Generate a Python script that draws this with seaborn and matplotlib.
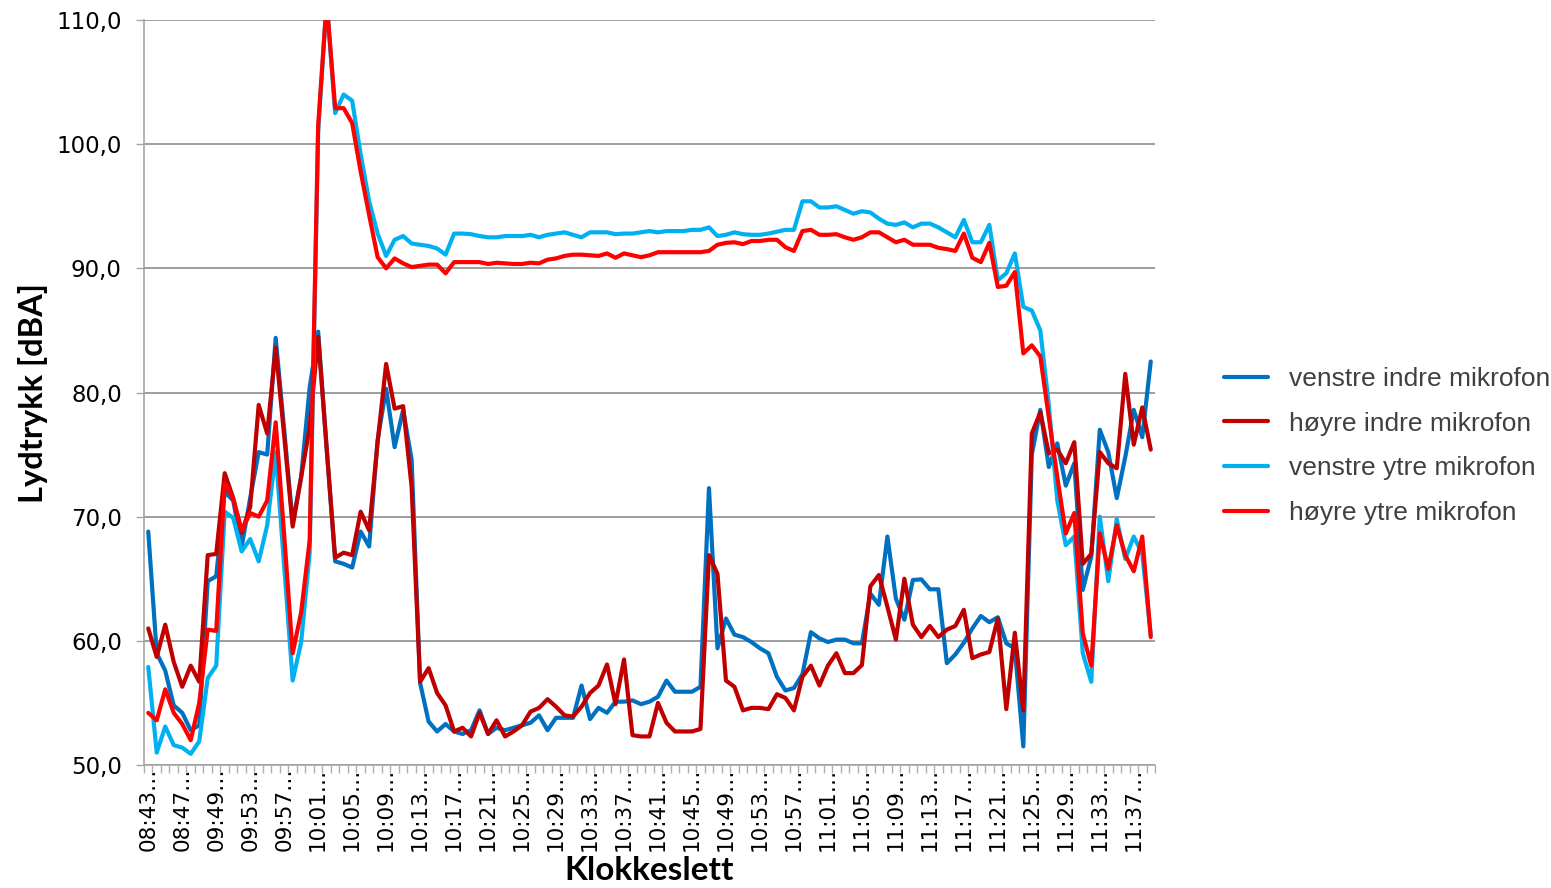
import numpy as np
import pandas as pd
import matplotlib
matplotlib.use("Agg")
import matplotlib.pyplot as plt
from matplotlib.ticker import FuncFormatter
from matplotlib.font_manager import FontProperties
import seaborn as sns

# ---- categories (one sample per minute; gap after 08:50) ----
time_blocks = [("08:43", 8), ("09:49", 111)]
times = []
for start, n in time_blocks:
    for t in pd.date_range("2000-01-01 " + start, periods=n, freq="min"):
        times.append(t.strftime("%H:%M:%S"))

# ---- series values (dBA) ----
venstre_indre = [
    68.8, 59.0, 57.6, 54.8, 54.2, 52.8, 53.2, 64.8, 65.2, 72.0,
    71.3, 67.6, 71.5, 75.2, 75.0, 84.4, 77.0, 69.5, 73.2, 80.4,
    84.9, 75.5, 66.4, 66.2, 65.9, 68.8, 67.6, 76.2, 80.3, 75.6,
    78.6, 74.6, 56.6, 53.5, 52.7, 53.3, 52.7, 52.5, 52.8, 54.4,
    52.5, 53.0, 52.8, 53.0, 53.2, 53.4, 54.0, 52.8, 53.8, 53.8,
    53.8, 56.4, 53.7, 54.6, 54.2, 55.1, 55.1, 55.2, 54.9, 55.1,
    55.5, 56.8, 55.9, 55.9, 55.9, 56.3, 72.3, 59.4, 61.8, 60.5,
    60.3, 59.9, 59.4, 59.0, 57.1, 56.0, 56.2, 57.3, 60.7, 60.2,
    59.9, 60.1, 60.1, 59.8, 59.8, 63.8, 62.9, 68.4, 63.4, 61.7,
    64.9, 64.95, 64.15, 64.15, 58.2, 58.9, 59.85, 61.0, 62.0, 61.5,
    61.9, 59.8, 59.4, 51.5, 75.0, 78.6, 74.0, 75.9, 72.5, 74.3,
    64.1, 66.8, 77.0, 75.2, 71.5, 74.8, 78.6, 76.4, 82.5,
]
hoyre_indre = [
    61.0, 58.7, 61.3, 58.3, 56.3, 58.0, 56.7, 66.9, 67.0, 73.5,
    71.5, 68.7, 70.8, 79.0, 76.7, 83.6, 76.5, 69.2, 73.2, 77.2,
    84.5, 75.5, 66.7, 67.1, 66.9, 70.4, 68.9, 76.0, 82.3, 78.7,
    78.9, 72.4, 56.7, 57.8, 55.8, 54.8, 52.7, 53.0, 52.3, 54.2,
    52.5, 53.6, 52.3, 52.7, 53.2, 54.3, 54.6, 55.3, 54.7, 54.0,
    53.9, 54.7, 55.8, 56.4, 58.1, 54.9, 58.5, 52.4, 52.3, 52.3,
    55.0, 53.4, 52.7, 52.7, 52.7, 52.9, 66.9, 65.4, 56.8, 56.3,
    54.4, 54.6, 54.6, 54.5, 55.7, 55.4, 54.4, 57.1, 58.0, 56.4,
    58.0, 59.0, 57.4, 57.4, 58.05, 64.4, 65.3, 62.75, 60.1, 65.0,
    61.3, 60.3, 61.2, 60.3, 60.9, 61.2, 62.5, 58.6, 58.9, 59.1,
    61.8, 54.5, 60.65, 54.4, 76.7, 78.4, 75.1, 75.4, 74.3, 76.0,
    66.2, 67.0, 75.2, 74.3, 73.9, 81.5, 75.8, 78.8, 75.4,
]
venstre_ytre = [
    57.9, 51.0, 53.1, 51.6, 51.4, 50.9, 51.9, 57.0, 58.0, 70.4,
    69.9, 67.2, 68.2, 66.4, 69.3, 75.2, 66.0, 56.8, 59.9, 67.1,
    101.0, 111.5, 102.5, 104.0, 103.5, 99.2, 95.4, 92.8, 91.0, 92.3,
    92.6, 92.0, 91.9, 91.8, 91.6, 91.1, 92.8, 92.8, 92.75, 92.6,
    92.5, 92.5, 92.6, 92.6, 92.6, 92.7, 92.5, 92.7, 92.8, 92.9,
    92.7, 92.5, 92.9, 92.9, 92.9, 92.75, 92.8, 92.8, 92.9, 93.0,
    92.9, 93.0, 93.0, 93.0, 93.1, 93.1, 93.3, 92.6, 92.7, 92.9,
    92.75, 92.7, 92.7, 92.8, 92.95, 93.1, 93.1, 95.4, 95.4, 94.9,
    94.9, 95.0, 94.7, 94.4, 94.6, 94.5, 94.0, 93.6, 93.5, 93.7,
    93.3, 93.6, 93.6, 93.3, 92.9, 92.5, 93.9, 92.1, 92.1, 93.5,
    89.05, 89.6, 91.2, 86.9, 86.6, 85.0, 79.0, 71.3, 67.7, 68.4,
    59.0, 56.7, 70.0, 64.8, 69.8, 66.6, 68.4, 67.0, 60.5,
]
hoyre_ytre = [
    54.2, 53.6, 56.1, 54.2, 53.3, 52.0, 55.0, 60.9, 60.8, 72.7,
    71.4, 68.9, 70.3, 70.0, 71.3, 77.6, 68.5, 59.0, 62.3, 68.1,
    101.5, 111.5, 102.9, 102.9, 101.7, 97.8, 94.3, 90.9, 90.0, 90.8,
    90.4, 90.1, 90.2, 90.3, 90.3, 89.6, 90.5, 90.5, 90.5, 90.5,
    90.35, 90.45, 90.4, 90.35, 90.35, 90.45, 90.4, 90.7, 90.8, 91.0,
    91.1, 91.1, 91.05, 91.0, 91.2, 90.85, 91.2, 91.05, 90.9, 91.05,
    91.3, 91.3, 91.3, 91.3, 91.3, 91.3, 91.4, 91.9, 92.05, 92.1,
    91.95, 92.2, 92.2, 92.3, 92.3, 91.7, 91.4, 93.0, 93.1, 92.7,
    92.7, 92.75, 92.5, 92.3, 92.5, 92.9, 92.9, 92.5, 92.1, 92.3,
    91.9, 91.9, 91.9, 91.65, 91.55, 91.4, 92.8, 90.85, 90.5, 92.05,
    88.5, 88.6, 89.7, 83.15, 83.8, 82.9, 78.0, 73.2, 68.65, 70.3,
    60.6, 58.0, 68.65, 65.8, 69.3, 66.9, 65.6, 68.4, 60.3,
]

series_names = ["venstre indre mikrofon", "høyre indre mikrofon",
                "venstre ytre mikrofon", "høyre ytre mikrofon"]
series_values = [venstre_indre, hoyre_indre, venstre_ytre, hoyre_ytre]
colors = ["#0070C0", "#C00000", "#00B0F0", "#FF0000"]

# ---- long table for seaborn ----
frames = []
for name, vals in zip(series_names, series_values):
    frames.append(pd.DataFrame({"pos": np.arange(len(times)),
                                "tid": times,
                                "dBA": vals,
                                "serie": name}))
df = pd.concat(frames, ignore_index=True)

sns.set_theme(style="white")
plt.rcParams["font.family"] = ["DejaVu Sans"]

fig = plt.figure(figsize=(15.51, 8.88), dpi=100)
ax = fig.add_axes([144 / 1551, 1 - 765 / 888, (1155 - 144) / 1551, (765 - 20) / 888])

sns.lineplot(data=df, x="pos", y="dBA", hue="serie", hue_order=series_names,
             palette=dict(zip(series_names, colors)), linewidth=3.0,
             estimator=None, errorbar=None, legend=False, ax=ax)

# axes limits and ticks
n = len(times)
ax.set_xlim(-0.5, n - 0.5)
ax.set_ylim(50, 110)
ax.set_yticks(np.arange(50, 111, 10))
ax.yaxis.set_major_formatter(FuncFormatter(lambda v, p: f"{v:.1f}".replace(".", ",")))
ax.set_xticks(np.arange(0, n, 4))
ax.set_xticklabels([times[i][:5] + "\u2026" for i in range(0, n, 4)],
                   rotation=90, fontsize=15.5)
ax.set_xticks(np.arange(-0.5, n, 1), minor=True)
ax.tick_params(axis="x", which="major", length=0, pad=2, labelcolor="black")
ax.tick_params(axis="x", which="minor", length=6, width=1.0, color="#B0B0B0", bottom=True)
ax.tick_params(axis="y", which="major", length=6, width=1.0, color="#A6A6A6",
               labelsize=16.5, pad=10, left=True, labelcolor="black")

ax.yaxis.grid(True, color="#8C8C8C", linewidth=1.2)
ax.xaxis.grid(False)
ax.set_axisbelow(True)
for s in ["top", "right"]:
    ax.spines[s].set_visible(False)
for s in ["left", "bottom"]:
    ax.spines[s].set_color("#A6A6A6")
    ax.spines[s].set_linewidth(1.2)

ax.set_ylabel("Lydtrykk [dBA]", fontfamily="Lato", fontweight="bold", fontsize=23.5, color="black")
ax.yaxis.set_label_coords(-0.095, 0.5)
ax.set_xlabel("Klokkeslett", fontfamily="Lato", fontweight="bold", fontsize=24, color="black")
ax.xaxis.set_label_coords(0.5, -0.122)

handles = ax.get_lines()[:4]
leg = fig.legend(handles, series_names, loc="center left",
                 bbox_to_anchor=(1224 / 1551, 1 - 446 / 888),
                 frameon=False, prop=FontProperties(family="Liberation Sans", size=19),
                 handlelength=1.65, handletextpad=0.8, labelspacing=0.78,
                 borderpad=0, borderaxespad=0)
for txt in leg.get_texts():
    txt.set_color("#404040")

fig.savefig("out.png", dpi=100)
